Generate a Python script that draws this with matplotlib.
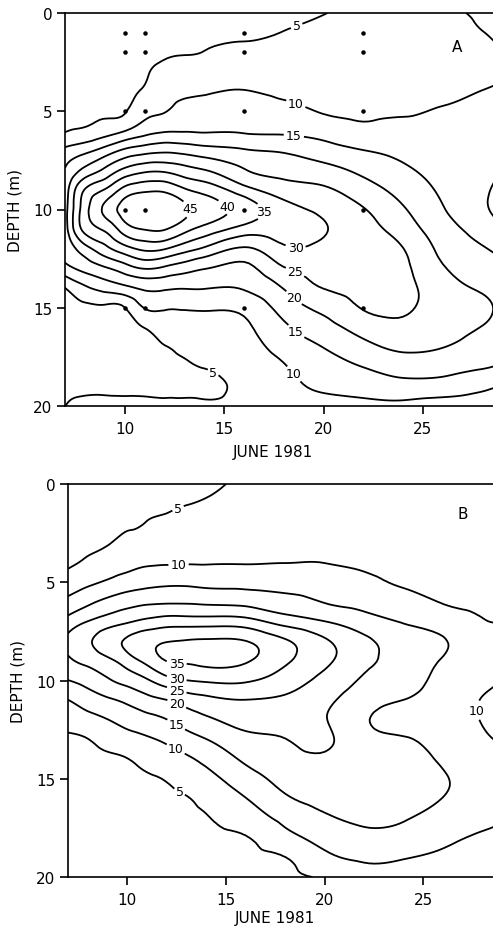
import numpy as np
import matplotlib
matplotlib.use("Agg")
import matplotlib.pyplot as plt
import matplotlib.tri as mtri

plt.rcParams["font.family"] = ["DejaVu Sans"]

# --------------------------- values -----------------------
# grid columns (June day) and rows (depth, m)
DAYS = [7, 8, 9, 10, 11, 12, 13, 14, 16, 18, 20, 22, 24, 26, 28, 29]
DEPTHS = list(range(21))

# panel A, one list per day, depth 0..20 m
A_07 = [2.0, 2.2, 2.5, 3.0, 3.5, 4.2, 4.7, 11.2, 15.2, 17.0, 18.0, 17.5, 16.5, 13.3, 4.9, 4.0, 3.5, 3.3, 3.5, 4.2, 4.95]
A_08 = [2.2, 2.4, 2.7, 3.2, 3.8, 4.3, 5.8, 13.6, 21.4, 30.3, 33.0, 31.6, 23.0, 16.5, 9.0, 4.3, 3.6, 3.4, 3.6, 4.3, 6.0]
A_09 = [2.5, 2.7, 3.0, 3.5, 4.0, 4.5, 7.6, 17.0, 26.0, 35.3, 41.0, 35.8, 28.3, 19.3, 11.7, 4.2, 3.5, 3.3, 3.5, 4.3, 6.0]
A_10 = [2.8, 3.0, 3.3, 3.7, 4.2, 4.7, 9.9, 21.0, 31.2, 41.7, 47.0, 42.5, 33.0, 22.5, 13.6, 4.9, 4.0, 3.6, 3.7, 4.3, 6.0]
A_11 = [3.0, 3.4, 3.9, 4.6, 5.6, 8.4, 13.0, 23.0, 33.8, 44.0, 49.0, 45.2, 36.0, 25.2, 15.8, 10.2, 5.1, 4.0, 3.7, 4.2, 6.0]
A_12 = [3.6, 4.0, 4.6, 6.0, 7.9, 9.8, 14.5, 24.0, 34.0, 44.0, 48.5, 45.3, 35.3, 24.0, 15.7, 10.5, 7.4, 4.8, 4.0, 4.1, 6.0]
A_13 = [3.8, 4.2, 4.8, 6.6, 8.9, 11.6, 14.7, 23.3, 32.0, 40.7, 46.0, 41.7, 32.0, 22.0, 15.2, 10.4, 8.0, 5.9, 4.4, 4.0, 6.0]
A_14 = [4.0, 4.5, 5.1, 7.3, 9.5, 12.0, 14.5, 22.1, 30.2, 38.3, 43.0, 38.3, 29.2, 20.2, 15.2, 10.5, 8.6, 6.8, 5.2, 3.8, 6.2]
A_16 = [3.6, 4.3, 6.2, 8.2, 10.2, 12.3, 14.4, 20.5, 25.3, 32.0, 38.0, 33.0, 24.3, 18.7, 15.3, 11.2, 9.2, 8.0, 7.0, 6.2, 6.5]
A_18 = [4.0, 5.1, 6.4, 7.8, 9.2, 11.2, 14.1, 19.4, 23.2, 27.5, 32.0, 32.0, 29.2, 24.6, 20.2, 16.9, 14.1, 11.8, 9.7, 8.8, 8.2]
A_20 = [4.9, 5.9, 6.8, 7.7, 8.7, 9.7, 12.9, 17.3, 21.7, 25.8, 29.0, 30.3, 29.0, 27.0, 25.1, 21.4, 18.1, 15.1, 12.8, 10.7, 8.6]
A_22 = [6.0, 6.6, 7.2, 7.9, 8.6, 9.3, 11.2, 15.1, 18.8, 22.2, 25.3, 27.0, 27.9, 27.8, 26.6, 25.3, 22.0, 18.6, 15.1, 11.9, 8.7]
A_24 = [6.5, 7.0, 7.6, 8.3, 9.0, 9.6, 11.4, 13.6, 15.9, 18.2, 20.5, 22.7, 25.1, 26.1, 26.5, 25.8, 23.8, 20.9, 17.3, 13.2, 8.7]
A_26 = [5.6, 6.4, 7.3, 8.2, 9.2, 10.3, 11.3, 12.2, 13.2, 14.2, 15.3, 17.0, 18.7, 20.4, 22.0, 23.0, 22.4, 20.1, 16.9, 12.8, 7.5]
A_28 = [4.5, 5.1, 6.8, 8.5, 10.1, 11.0, 11.6, 11.8, 11.3, 10.7, 10.7, 12.8, 15.4, 17.5, 19.4, 20.8, 19.8, 17.6, 15.4, 11.0, 8.0]
A_29 = [3.6, 4.2, 5.2, 8.4, 10.8, 11.2, 11.0, 10.5, 9.9, 8.8, 8.8, 9.9, 13.5, 16.0, 18.2, 19.0, 18.2, 16.5, 14.4, 9.9, 7.5]

# panel B, one list per day, depth 0..20 m
B_07 = [1.5, 2.0, 2.6, 3.3, 4.3, 7.2, 11.3, 16.9, 21.0, 19.0, 14.9, 9.9, 6.7, 4.3, 3.6, 3.2, 3.0, 2.8, 2.7, 2.6, 2.5]
B_08 = [2.0, 2.5, 3.2, 4.0, 5.7, 9.0, 13.9, 20.1, 24.3, 21.4, 16.8, 12.3, 8.3, 4.9, 3.9, 3.4, 3.1, 2.9, 2.8, 2.7, 2.6]
B_09 = [2.5, 3.1, 3.8, 4.7, 7.4, 10.6, 16.3, 22.5, 27.8, 23.8, 19.4, 14.2, 9.9, 6.7, 4.3, 3.7, 3.3, 3.1, 3.0, 2.9, 2.8]
B_10 = [3.0, 3.6, 4.4, 6.2, 8.6, 12.2, 18.1, 24.4, 30.8, 27.5, 21.7, 16.1, 11.7, 8.1, 4.9, 4.0, 3.6, 3.4, 3.3, 3.2, 3.1]
B_11 = [3.5, 4.2, 5.1, 6.4, 9.3, 13.4, 19.1, 26.3, 33.5, 31.5, 24.4, 18.4, 13.3, 9.4, 6.5, 4.5, 4.0, 3.7, 3.5, 3.4, 3.3]
B_12 = [3.9, 4.5, 5.8, 7.7, 9.6, 14.0, 19.4, 27.5, 34.8, 35.1, 28.0, 19.9, 14.9, 10.8, 7.9, 5.3, 4.3, 4.0, 3.8, 3.7, 3.6]
B_13 = [4.2, 4.9, 6.5, 8.1, 9.7, 14.0, 19.4, 27.5, 35.3, 35.6, 29.9, 22.2, 17.3, 12.9, 9.3, 6.9, 4.8, 4.3, 4.0, 3.9, 3.8]
B_14 = [4.5, 5.3, 6.8, 8.2, 9.7, 13.6, 19.0, 27.5, 35.6, 36.3, 30.6, 23.6, 19.2, 14.9, 11.2, 8.4, 6.1, 4.8, 4.4, 4.2, 4.1]
B_16 = [5.5, 6.3, 7.4, 8.6, 9.8, 13.4, 18.4, 27.0, 35.1, 35.5, 30.6, 24.9, 21.7, 18.6, 15.8, 12.9, 9.9, 7.4, 4.8, 4.6, 4.5]
B_18 = [6.0, 6.9, 7.8, 8.9, 9.95, 12.9, 16.7, 22.9, 30.6, 30.8, 27.5, 24.2, 22.1, 19.9, 18.2, 16.4, 14.4, 11.4, 8.3, 4.95, 4.3]
B_20 = [6.2, 7.1, 8.0, 9.0, 9.95, 12.4, 14.8, 20.1, 25.6, 26.0, 23.5, 21.3, 20.3, 20.8, 19.2, 17.6, 16.2, 14.4, 11.7, 8.9, 5.4]
B_22 = [6.5, 7.2, 7.9, 8.6, 9.4, 11.0, 13.5, 17.0, 21.2, 21.3, 19.3, 17.0, 15.5, 16.6, 17.4, 17.5, 17.0, 15.9, 13.6, 10.8, 7.8]
B_24 = [6.7, 7.3, 7.9, 8.5, 9.0, 9.6, 11.7, 14.7, 17.0, 18.0, 17.2, 14.95, 13.7, 15.4, 16.8, 17.2, 16.8, 15.3, 13.4, 10.3, 7.8]
B_26 = [6.6, 7.1, 7.6, 8.1, 8.7, 9.3, 9.8, 12.7, 15.3, 14.6, 13.4, 12.4, 12.2, 13.0, 14.3, 15.4, 14.9, 13.3, 11.3, 8.9, 6.8]
B_28 = [6.4, 6.8, 7.2, 7.6, 8.1, 8.7, 9.4, 10.2, 11.5, 11.9, 11.0, 9.8, 9.8, 10.6, 12.0, 12.8, 12.4, 11.2, 9.3, 7.6, 6.3]
B_29 = [6.2, 6.6, 7.0, 7.4, 7.9, 8.5, 9.2, 9.9, 11.0, 10.8, 9.9, 8.8, 8.6, 9.5, 11.0, 12.0, 11.6, 10.4, 8.7, 7.2, 6.0]

A_LEVELS = [5, 10, 15, 20, 25, 30, 35, 40, 45]
B_LEVELS = [5, 10, 15, 20, 25, 30, 35]

# sampling stations marked in panel A
STATION_DAYS = [10, 11, 16, 22]
SAMPLE_DEPTHS = [1, 2, 5, 10, 15]

# where the contour labels sit (day, depth)
A_LABEL_SPOTS = [(18.7, 0.8), (18.5, 4.9), (18.5, 6.3), (13.2, 10.0), (15.0, 10.0),
                 (17.4, 10.0), (18.6, 11.8), (18.6, 13.1), (18.7, 14.3), (18.7, 16.1),
                 (18.7, 18.2), (14.5, 18.2)]
B_LABEL_SPOTS = [(12.6, 1.3), (12.6, 4.2), (12.5, 9.1), (12.5, 9.9), (12.5, 10.5),
                 (12.5, 11.2), (12.5, 12.2), (12.5, 13.4), (12.8, 15.4), (27.8, 11.5)]


def draw_panel(ax, columns, levels, label_spots, letter, letter_xy, xlabel_y):
    z = np.column_stack(columns)
    xx, yy = np.meshgrid(DAYS, DEPTHS)
    tri = mtri.Triangulation(xx.ravel().astype(float), yy.ravel().astype(float))
    tri_f, z_f = mtri.UniformTriRefiner(tri).refine_field(z.ravel(), subdiv=3)
    cs = ax.tricontour(tri_f, z_f, levels=levels, colors="black", linewidths=1.3)
    ax.clabel(cs, fmt="%d", fontsize=9, manual=label_spots, inline=True, inline_spacing=2)
    for t in cs.labelTexts:
        t.set_rotation(0)

    ax.set_xlim(7, 28.52)
    ax.set_ylim(20, 0)
    ax.set_xticks([10, 15, 20, 25])
    ax.set_yticks([0, 5, 10, 15, 20])
    ax.tick_params(direction="out", length=6, width=1.2, labelsize=11)
    ax.tick_params(axis="x", pad=5)
    ax.tick_params(axis="y", pad=3)
    ax.spines["right"].set_visible(False)
    for s in ("left", "bottom", "top"):
        ax.spines[s].set_linewidth(1.2)
    ax.set_xlabel("JUNE 1981", fontsize=11)
    ax.set_ylabel("DEPTH (m)", fontsize=11)
    ax.xaxis.set_label_coords(0.486, xlabel_y)
    ax.yaxis.set_label_coords(-0.10, 0.5)
    ax.text(letter_xy[0], letter_xy[1], letter, fontsize=11, ha="center", va="center")


def main() -> None:
    fig = plt.figure(figsize=(4.93, 9.29), dpi=100)
    ax_a = fig.add_axes([65 / 493, 1 - 407 / 929, 428 / 493, 393 / 929])
    ax_b = fig.add_axes([68 / 493, 1 - 878 / 929, 425 / 493, 393 / 929])

    draw_panel(ax_a, [A_07, A_08, A_09, A_10, A_11, A_12, A_13, A_14, A_16, A_18,
                      A_20, A_22, A_24, A_26, A_28, A_29],
               A_LEVELS, A_LABEL_SPOTS, "A", (26.7, 1.7), -0.097)
    sx, sy = np.meshgrid(STATION_DAYS, SAMPLE_DEPTHS)
    ax_a.scatter(sx.ravel(), sy.ravel(), s=5, color="black", zorder=3, clip_on=False)

    draw_panel(ax_b, [B_07, B_08, B_09, B_10, B_11, B_12, B_13, B_14, B_16, B_18,
                      B_20, B_22, B_24, B_26, B_28, B_29],
               B_LEVELS, B_LABEL_SPOTS, "B", (27.0, 1.5), -0.085)

    fig.savefig("out.png", dpi=100)
    plt.close(fig)


if __name__ == "__main__":
    main()
